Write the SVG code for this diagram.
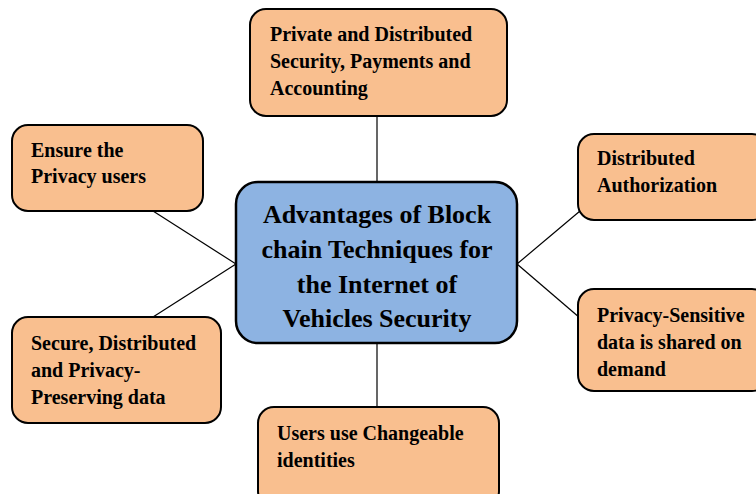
<svg xmlns="http://www.w3.org/2000/svg" width="756" height="494" viewBox="0 0 756 494">
<style>
.box{fill:#F9BF8F;stroke:#000;stroke-width:2}
.ctr{fill:#8DB3E2;stroke:#000;stroke-width:2.5}
.t{font-family:"Liberation Serif","Times New Roman",serif;font-weight:bold;font-size:20px;fill:#000}
.tc{font-family:"Liberation Serif","Times New Roman",serif;font-weight:bold;font-size:26px;fill:#000;text-anchor:middle}
.c{stroke:#000;stroke-width:1.2;fill:none}
</style>
<rect width="756" height="494" fill="#fff"/>
<g id="connectors">
<line class="c" x1="377" y1="116" x2="377" y2="182"/>
<line class="c" x1="377" y1="343" x2="377" y2="407"/>
<line class="c" x1="153" y1="211" x2="236" y2="264"/>
<line class="c" x1="153" y1="317" x2="236" y2="264"/>
<line class="c" x1="580" y1="211" x2="517" y2="264"/>
<line class="c" x1="580" y1="318" x2="517" y2="264"/>
</g>
<g id="center">
<rect class="ctr" x="236" y="182" width="281" height="161" rx="22"/>
<text class="tc" x="377" y="223">Advantages of Block</text>
<text class="tc" x="377" y="258">chain Techniques for</text>
<text class="tc" x="377" y="293">the Internet of</text>
<text class="tc" x="377" y="327">Vehicles Security</text>
</g>
<g id="top">
<rect class="box" x="250" y="9" width="257" height="107" rx="16"/>
<text class="t" x="270" y="41">Private and Distributed</text>
<text class="t" x="270" y="68">Security, Payments and</text>
<text class="t" x="270" y="95">Accounting</text>
</g>
<g id="topleft">
<rect class="box" x="12" y="125" width="191" height="86" rx="16"/>
<text class="t" x="31" y="157">Ensure the</text>
<text class="t" x="31" y="183">Privacy users</text>
</g>
<g id="topright">
<rect class="box" x="578" y="134" width="190" height="86" rx="16"/>
<text class="t" x="597" y="165">Distributed</text>
<text class="t" x="597" y="192">Authorization</text>
</g>
<g id="bottomright">
<rect class="box" x="578" y="289" width="190" height="102" rx="16"/>
<text class="t" x="597" y="322">Privacy-Sensitive</text>
<text class="t" x="597" y="349">data is shared on</text>
<text class="t" x="597" y="376">demand</text>
</g>
<g id="bottomleft">
<rect class="box" x="12" y="317" width="209" height="106" rx="16"/>
<text class="t" x="31" y="350">Secure, Distributed</text>
<text class="t" x="31" y="377">and Privacy-</text>
<text class="t" x="31" y="404">Preserving data</text>
</g>
<g id="bottom">
<rect class="box" x="258" y="407" width="241" height="100" rx="16"/>
<text class="t" x="277" y="440">Users use Changeable</text>
<text class="t" x="277" y="467">identities</text>
</g>
</svg>
